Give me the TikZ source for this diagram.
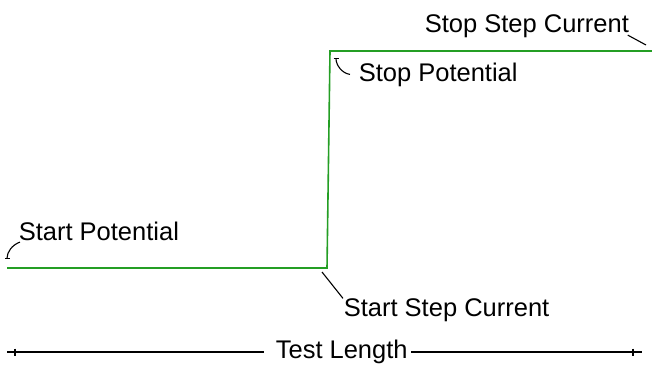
\documentclass[tikz,border=0pt]{standalone}
\usepackage{fontspec}
\setmainfont{Liberation Sans}
\usetikzlibrary{arrows.meta}
\definecolor{stepgreen}{RGB}{36,158,36}
\begin{document}
\begin{tikzpicture}
[x=1pt,y=-1pt,line width=1.6pt,
 lbl/.style={anchor=base west,inner sep=0pt,font=\fontsize{25.5}{30}\selectfont},
 leader/.style={line width=1.1pt},
 tipped/.style={leader,-{Bar[width=5pt,line width=1pt]}},
 lentick/.style={line width=1.4pt}]
\useasboundingbox (0,0) rectangle (652,371);
% potential step
\coordinate (lo0) at (7,268);
\coordinate (lo1) at (327,268);
\coordinate (hi0) at (330,51);
\coordinate (hi1) at (652,51);
\draw[stepgreen] (lo0) -- (lo1) -- (hi0) -- (hi1);
% labels
\node[lbl] (startpot) at (18,240) {Start Potential};
\node[lbl] (stoppot) at (358,82) {Stop Potential};
\node[lbl] (stopcur) at (424,33) {Stop Step Current};
\node[lbl] (startcur) at (343,316) {Start Step Current};
\node[lbl] (testlen) at (275,358) {Test Length};
% leaders
\coordinate (startpotTip) at (7,259);
\coordinate (stoppotTip) at (336,58);
\coordinate (stopcurTip) at (646,45);
\coordinate (startcurTip) at (322,272);
\draw[tipped] ([xshift=2pt,yshift=-1pt]startpot.south west)
  .. controls +(-8,3) and +(0,-7) .. (startpotTip);
\draw[tipped] ([xshift=-8pt,yshift=1pt]stoppot.west)
  .. controls +(-8,-1) and +(0,7) .. (stoppotTip);
\draw[leader] ([xshift=-2pt,yshift=4pt]stopcur.south east) -- (stopcurTip);
\draw[leader] ([yshift=-1pt]startcur.north west) -- (startcurTip);
% test length
\coordinate (lenL) at (7,352);
\coordinate (lenR) at (642,352);
\draw[shorten >=11pt] (lenL) -- (lenL -| testlen.west);
\draw (lenR -| testlen.east) ++(3,0) -- (lenR);
\draw[lentick] ([shift={(8,-3.5)}]lenL) -- ++(0,7);
\draw[lentick] ([shift={(-9,-3.5)}]lenR) -- ++(0,7);
\end{tikzpicture}
\end{document}
